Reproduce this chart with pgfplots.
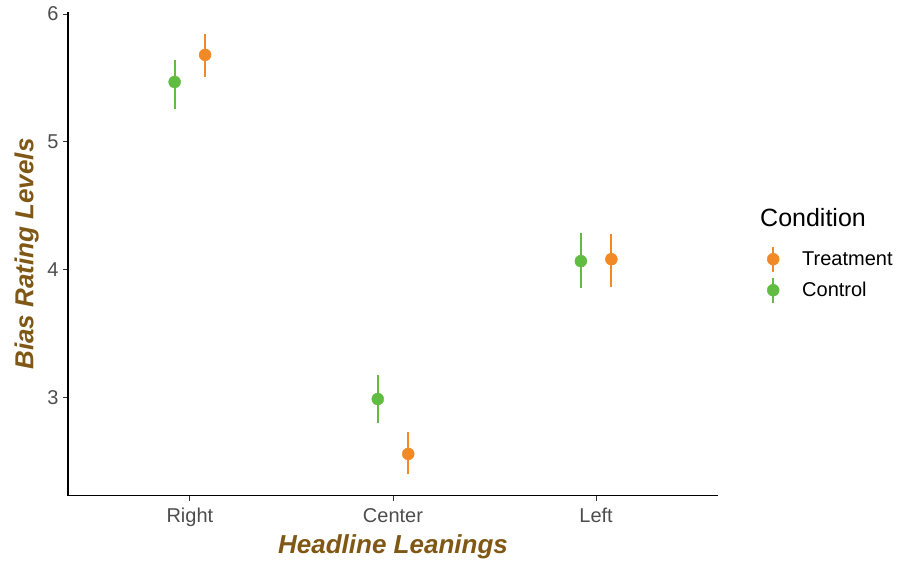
\documentclass[border=0pt]{standalone}
\usepackage{pgfplots}
\pgfplotsset{compat=1.18}
\usepackage{fontspec}
\setmainfont{Liberation Sans}

\definecolor{ctrl}{RGB}{96,189,66}
\definecolor{treat}{RGB}{240,137,38}
\definecolor{labbrown}{RGB}{128,88,22}
\definecolor{tickgray}{RGB}{77,77,77}

% Means with upper / lower error extents, dodged around each category
\pgfplotstableread{
x      y      ep     em
1.075  5.680  0.160  0.170
2.075  2.555  0.175  0.155
3.075  4.080  0.200  0.220
}\treatment
\pgfplotstableread{
x      y      ep     em
0.925  5.468  0.172  0.212
1.925  2.985  0.185  0.185
2.925  4.065  0.220  0.210
}\control

\begin{document}
\begin{tikzpicture}
\useasboundingbox (0pt,0pt) rectangle (903pt,562pt);
\begin{axis}[
  at={(68pt,66.3pt)}, anchor=south west,
  scale only axis, width=650pt, height=483.2pt,
  xmin=0.4, xmax=3.6, ymin=2.228, ymax=6.012,
  axis x line*=bottom, axis y line*=left,
  axis line style={black, line width=1.1pt},
  xtick={1,2,3}, xticklabels={Right,Center,Left},
  ytick={3,4,5,6},
  tick align=outside, major tick length=5pt,
  tick style={color=black!80, line width=1pt},
  ticklabel style={font=\fontsize{20}{22}\selectfont, text=tickgray},
  xticklabel style={yshift=-4pt},
  yticklabel style={xshift=-1pt},
  /pgf/number format/assume math mode=true,
  xlabel={Headline Leanings},
  ylabel={Bias Rating Levels},
  label style={font=\fontsize{26}{28}\selectfont\bfseries\itshape, text=labbrown},
  xlabel style={at={(axis description cs:0.5,-0.1055)}, anchor=center},
  ylabel style={at={(axis description cs:-0.0638,0.5)}, anchor=center},
  legend style={draw=none, fill=none, font=\fontsize{20}{22}\selectfont,
    at={(axis description cs:1.0646,0.5178)}, anchor=north west,
    legend cell align=left, row sep=4pt, inner sep=0pt},
  legend image code/.code={
    \path[draw=none, fill=none] (0pt,0pt) -- (40pt,0pt);
    \draw[#1, line width=2pt] (13pt,-12.5pt) -- (13pt,12.5pt);
    \fill[#1] (13pt,0pt) circle (6pt);
  },
  error bars/y dir=both, error bars/y explicit,
  error bars/error mark=none,
]
\addplot[only marks, mark=*, mark size=6pt, color=treat,
  error bars/error bar style={line width=2pt, color=treat}]
  table[x=x, y=y, y error plus=ep, y error minus=em] {\treatment};
\addlegendentry{Treatment}
\addplot[only marks, mark=*, mark size=6pt, color=ctrl,
  error bars/error bar style={line width=2pt, color=ctrl}]
  table[x=x, y=y, y error plus=ep, y error minus=em] {\control};
\addlegendentry{Control}
\end{axis}
\node[anchor=base west, font=\fontsize{25}{27}\selectfont, inner sep=0pt] at (760pt,335pt) {Condition};
\end{tikzpicture}
\end{document}
